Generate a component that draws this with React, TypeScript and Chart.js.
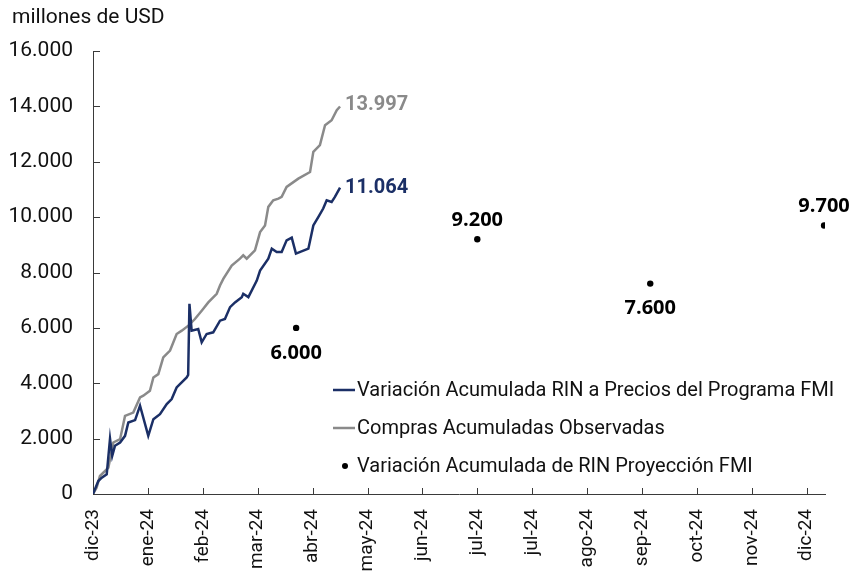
import { useEffect, useRef } from 'react';
import { Chart, registerables } from 'chart.js';

Chart.register(...registerables);

// ---- data ----
const tickLabels = ['dic-23', 'ene-24', 'feb-24', 'mar-24', 'abr-24', 'may-24', 'jun-24', 'jul-24', 'jul-24', 'ago-24', 'sep-24', 'oct-24', 'nov-24', 'dic-24'];
const seriesNames = [
  'Variación Acumulada RIN a Precios del Programa FMI',
  'Compras Acumuladas Observadas',
  'Variación Acumulada de RIN Proyección FMI',
];
const yTitle = 'millones de USD';

// days since the first axis tick (dic-23)
const rinDays = [0, 2.9, 4.8, 7.5, 9.3, 10.5, 12, 14.8, 17.5, 19.3, 23, 25.7, 30.2, 33, 36.6, 40.3, 43, 45.7, 47.5, 51.2, 52, 52.7, 53.9, 57.5, 59.4, 62.1, 65.7, 69.4, 72.1, 74.9, 77.6, 81.3, 82.1, 84.9, 89.5, 91.3, 95.8, 97.7, 100.4, 103.1, 105.8, 108.6, 110.9, 117.7, 120.4, 123.1, 125.8, 127.7, 130.4, 132.2, 135];
const rinValues = [0, 470, 590, 710, 2000, 1375, 1740, 1860, 2100, 2580, 2670, 3190, 2100, 2700, 2885, 3250, 3430, 3850, 3970, 4210, 4300, 6870, 5900, 5960, 5480, 5780, 5840, 6260, 6320, 6750, 6920, 7110, 7230, 7110, 7710, 8070, 8500, 8860, 8740, 8740, 9160, 9260, 8680, 8860, 9700, 10000, 10310, 10610, 10550, 10730, 11064];

const comprasDays = [0, 2, 3.8, 6.6, 8.4, 11.1, 14.8, 17.5, 22, 25.7, 27.5, 31.1, 33, 35.7, 38.4, 42.1, 45.7, 48.5, 52.1, 55.7, 59.4, 63, 67.6, 69.4, 71.2, 75.8, 80.3, 82.1, 84, 88.5, 91.3, 94, 95.8, 98.5, 101.3, 103.1, 105.8, 112.2, 118.6, 120.4, 124, 126.8, 130.4, 133.2, 135];
const comprasValues = [0, 230, 650, 830, 950, 1860, 1980, 2820, 2940, 3490, 3550, 3730, 4210, 4330, 4930, 5180, 5780, 5900, 6080, 6320, 6620, 6920, 7230, 7530, 7770, 8250, 8500, 8620, 8500, 8800, 9460, 9700, 10370, 10610, 10670, 10730, 11090, 11390, 11630, 12360, 12600, 13320, 13500, 13860, 13997];

const fmiDays = [111, 210, 304.5, 399.5];
const fmiValues = [6000, 9200, 7600, 9700];

// ---- styles ----
const NAVY = '#1b2f66';
const GRAY = '#8a8a8a';
const AXIS = '#3a3a3a';
const TEXT = '#111111';
const FONT = 'Roboto';

const fmt = (v: number) => {
  const s = Math.round(v).toString();
  return s.replace(/\B(?=(\d{3})+(?!\d))/g, '.');
};

const decorPlugin = {
  id: 'decor',
  afterDraw(chart: any) {
    const { ctx, chartArea, scales } = chart;
    const xs = scales.x;
    const ys = scales.y;
    ctx.save();

    // title
    ctx.fillStyle = TEXT;
    ctx.font = `21px ${FONT}`;
    ctx.textAlign = 'left';
    ctx.textBaseline = 'middle';
    ctx.fillText(yTitle, 12, 18);

    // inner tick marks
    ctx.strokeStyle = AXIS;
    ctx.lineWidth = 1;
    ctx.beginPath();
    ys.ticks.forEach((t: any) => {
      const y = Math.round(ys.getPixelForValue(t.value)) + 0.5;
      ctx.moveTo(chartArea.left, y);
      ctx.lineTo(chartArea.left + 7, y);
    });
    xs.ticks.forEach((t: any, i: number) => {
      if (i === 0) return;
      const x = Math.round(xs.getPixelForValue(t.value)) + 0.5;
      ctx.moveTo(x, chartArea.bottom);
      ctx.lineTo(x, chartArea.bottom - 6);
    });
    ctx.stroke();

    // end labels
    ctx.font = `bold 20px ${FONT}`;
    ctx.textAlign = 'left';
    ctx.textBaseline = 'middle';
    const lastR = rinValues.length - 1;
    ctx.fillStyle = NAVY;
    ctx.fillText(fmt(rinValues[lastR]), xs.getPixelForValue(rinDays[lastR]) + 5, ys.getPixelForValue(rinValues[lastR]));
    const lastC = comprasValues.length - 1;
    ctx.fillStyle = GRAY;
    ctx.fillText(fmt(comprasValues[lastC]), xs.getPixelForValue(comprasDays[lastC]) + 5, ys.getPixelForValue(comprasValues[lastC]) - 1);

    // projection labels
    ctx.font = `bold 20px "Open Sans"`;
    ctx.fillStyle = '#000';
    ctx.textAlign = 'center';
    fmiValues.forEach((v, i) => {
      const px = xs.getPixelForValue(fmiDays[i]);
      const py = ys.getPixelForValue(v);
      const below = i % 2 === 0;
      ctx.fillText(fmt(v), px, below ? py + 25 : py - 19);
    });

    // legend
    const lx = 333;
    const rows = [390, 428, 466];
    ctx.font = `20px ${FONT}`;
    ctx.textAlign = 'left';
    ctx.textBaseline = 'middle';
    [NAVY, GRAY].forEach((c, i) => {
      ctx.strokeStyle = c;
      ctx.lineWidth = 2.5;
      ctx.beginPath();
      ctx.moveTo(lx, rows[i]);
      ctx.lineTo(lx + 22, rows[i]);
      ctx.stroke();
    });
    ctx.fillStyle = '#000';
    ctx.beginPath();
    ctx.arc(lx + 12, rows[2], 3, 0, Math.PI * 2);
    ctx.fill();
    ctx.fillStyle = TEXT;
    seriesNames.forEach((n, i) => ctx.fillText(n, lx + 24, rows[i] + 1));

    ctx.restore();
  },
};

export default function App() {
  const ref = useRef<HTMLCanvasElement | null>(null);
  useEffect(() => {
    if (!ref.current) return;
    const chart = new Chart(ref.current, {
      type: 'line',
      data: {
        datasets: [
          {
            label: seriesNames[0],
            data: rinDays.map((d, i) => ({ x: d, y: rinValues[i] })),
            borderColor: NAVY,
            borderWidth: 2.5,
            pointRadius: 0,
            tension: 0,
            order: 1,
          },
          {
            label: seriesNames[1],
            data: comprasDays.map((d, i) => ({ x: d, y: comprasValues[i] })),
            borderColor: GRAY,
            borderWidth: 2.5,
            pointRadius: 0,
            tension: 0,
            order: 2,
          },
          {
            label: seriesNames[2],
            data: fmiDays.map((d, i) => ({ x: d, y: fmiValues[i] })),
            showLine: false,
            pointRadius: 3.2,
            pointBackgroundColor: '#000',
            pointBorderWidth: 0,
            borderColor: '#000',
            order: 0,
          },
        ],
      },
      options: {
        animation: false,
        responsive: true,
        maintainAspectRatio: false,
        layout: { padding: { top: 51, right: 25, left: 0, bottom: 0 } },
        plugins: { legend: { display: false }, tooltip: { enabled: false }, title: { display: false } },
        scales: {
          x: {
            type: 'linear',
            min: 0,
            max: 400,
            afterBuildTicks: (s: any) => {
              s.ticks = tickLabels.map((_, i) => ({ value: i * 30 }));
            },
            afterFit: (s: any) => {
              s.height = 82;
            },
            ticks: {
              callback: (_v: any, i: number) => tickLabels[i],
              autoSkip: false,
              maxRotation: 90,
              minRotation: 90,
              padding: 15,
              color: TEXT,
              font: { family: FONT, size: 19 },
            },
            grid: { display: false, drawTicks: false },
            border: { display: true, color: AXIS, width: 1 },
          },
          y: {
            min: 0,
            max: 16000,
            afterFit: (s: any) => {
              s.width = 93;
            },
            ticks: {
              stepSize: 2000,
              callback: (v: any) => fmt(Number(v)),
              padding: 20,
              color: TEXT,
              font: { family: FONT, size: 21 },
            },
            grid: { display: false, drawTicks: false },
            border: { display: true, color: AXIS, width: 1 },
          },
        },
      },
      plugins: [decorPlugin],
    });
    return () => chart.destroy();
  }, []);
  return (
    <div style={{ position: 'fixed', left: 0, top: 0, width: 850, height: 576 }}>
      <canvas ref={ref} />
    </div>
  );
}
